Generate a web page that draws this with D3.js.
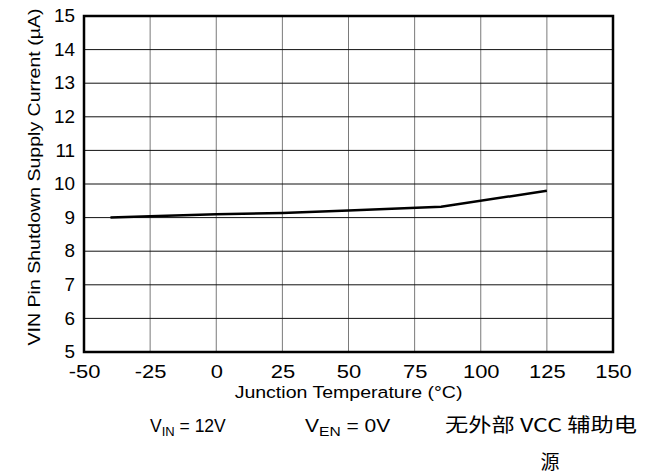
<!DOCTYPE html>
<html>
<head>
<meta charset="utf-8">
<script src="https://cdn.jsdelivr.net/npm/d3@7"></script>
<style>
  body { margin: 0; background: #fff; }
  text { font-family: "Liberation Sans", Arial, sans-serif; fill: #000; }
</style>
</head>
<body>
<svg id="chart" width="653" height="476"></svg>
<script>
// data
var temps = [-40, -25, 0, 25, 50, 85, 125];
var currents = [9.0, 9.04, 9.1, 9.14, 9.21, 9.32, 9.8];
var xTicks = [-50, -25, 0, 25, 50, 75, 100, 125, 150];
var yTicks = [5, 6, 7, 8, 9, 10, 11, 12, 13, 14, 15];

var svg = d3.select("#chart");
var margin = { top: 16, right: 40, bottom: 124, left: 84 };
var width = 653 - margin.left - margin.right,
    height = 476 - margin.top - margin.bottom;

var g = svg.append("g")
    .attr("transform", `translate(${margin.left},${margin.top})`);

var x = d3.scaleLinear().domain([-50, 150]).range([0, width]);
var y = d3.scaleLinear().domain([5, 15]).range([height, 0]);

// grid
g.append("g")
    .selectAll("line")
    .data(xTicks.slice(1, -1))
    .join("line")
        .attr("x1", d => x(d)).attr("x2", d => x(d))
        .attr("y1", 0).attr("y2", height)
        .attr("stroke", "#7a7a7a")
        .attr("stroke-width", 1);

g.append("g")
    .selectAll("line")
    .data(yTicks.slice(1, -1))
    .join("line")
        .attr("x1", 0).attr("x2", width)
        .attr("y1", d => y(d)).attr("y2", d => y(d))
        .attr("stroke", "#111")
        .attr("stroke-width", 1);

// axes (labels only), the original lettering is drawn a bit wide
var xAxis = g.append("g")
    .attr("transform", `translate(0,${height})`)
    .call(d3.axisBottom(x).tickValues(xTicks).tickSize(0).tickPadding(13)
        .tickFormat(d => String(d)));
xAxis.select(".domain").remove();
xAxis.selectAll("text")
    .attr("font-size", 18)
    .attr("fill", "#000")
    .attr("transform", "scale(1.22,1)")
    .style("font-family", "Liberation Sans, Arial, sans-serif");

var yAxis = g.append("g")
    .call(d3.axisLeft(y).tickValues(yTicks).tickSize(0).tickPadding(9));
yAxis.select(".domain").remove();
yAxis.selectAll("text")
    .attr("font-size", 18)
    .attr("fill", "#000")
    .attr("x", -9 / 1.05)
    .attr("transform", "scale(1.05,1)")
    .style("font-family", "Liberation Sans, Arial, sans-serif");

// frame
g.append("rect")
    .attr("width", width)
    .attr("height", height)
    .attr("fill", "none")
    .attr("stroke", "#000")
    .attr("stroke-width", 2.5);

// curve
var line = d3.line()
    .x((d, i) => x(temps[i]))
    .y(d => y(d));

g.append("path")
    .datum(currents)
    .attr("fill", "none")
    .attr("stroke", "#000")
    .attr("stroke-width", 2.5)
    .attr("d", line);

// label helper
function label(px, py, rot, size, anchor, k) {
    return svg.append("g")
            .attr("transform", `translate(${px},${py}) rotate(${rot})`)
        .append("text")
            .attr("transform", `scale(${k},1)`)
            .attr("text-anchor", anchor)
            .attr("font-size", size);
}

// axis titles
label(margin.left + width / 2, 398, 0, 17, "middle", 1.15)
    .text("Junction Temperature (°C)");

label(40, 177, -90, 17, "middle", 1.15)
    .text("VIN Pin Shutdown Supply Current (µA)");

// conditions
var c1 = label(150, 432, 0, 17.5, "start", 1.0);
c1.append("tspan").text("V");
c1.append("tspan").attr("font-size", 13).attr("dy", 4).text("IN");
c1.append("tspan").attr("dy", -4).text(" = 12V");

var c2 = label(305, 432, 0, 17.5, "start", 1.2);
c2.append("tspan").text("V");
c2.append("tspan").attr("font-size", 13).attr("dy", 4).text("EN");
c2.append("tspan").attr("dy", -4).text(" = 0V");

svg.append("text")
    .attr("x", 445).attr("y", 432)
    .attr("font-size", 19)
    .attr("textLength", 192)
    .attr("lengthAdjust", "spacingAndGlyphs")
    .style("font-family", "'Noto Sans CJK SC', 'Liberation Sans', sans-serif")
    .text("无外部 VCC 辅助电");

svg.append("text")
    .attr("x", 550).attr("y", 469)
    .attr("text-anchor", "middle")
    .attr("font-size", 19)
    .style("font-family", "'Noto Sans CJK SC', sans-serif")
    .text("源");
</script>
</body>
</html>
